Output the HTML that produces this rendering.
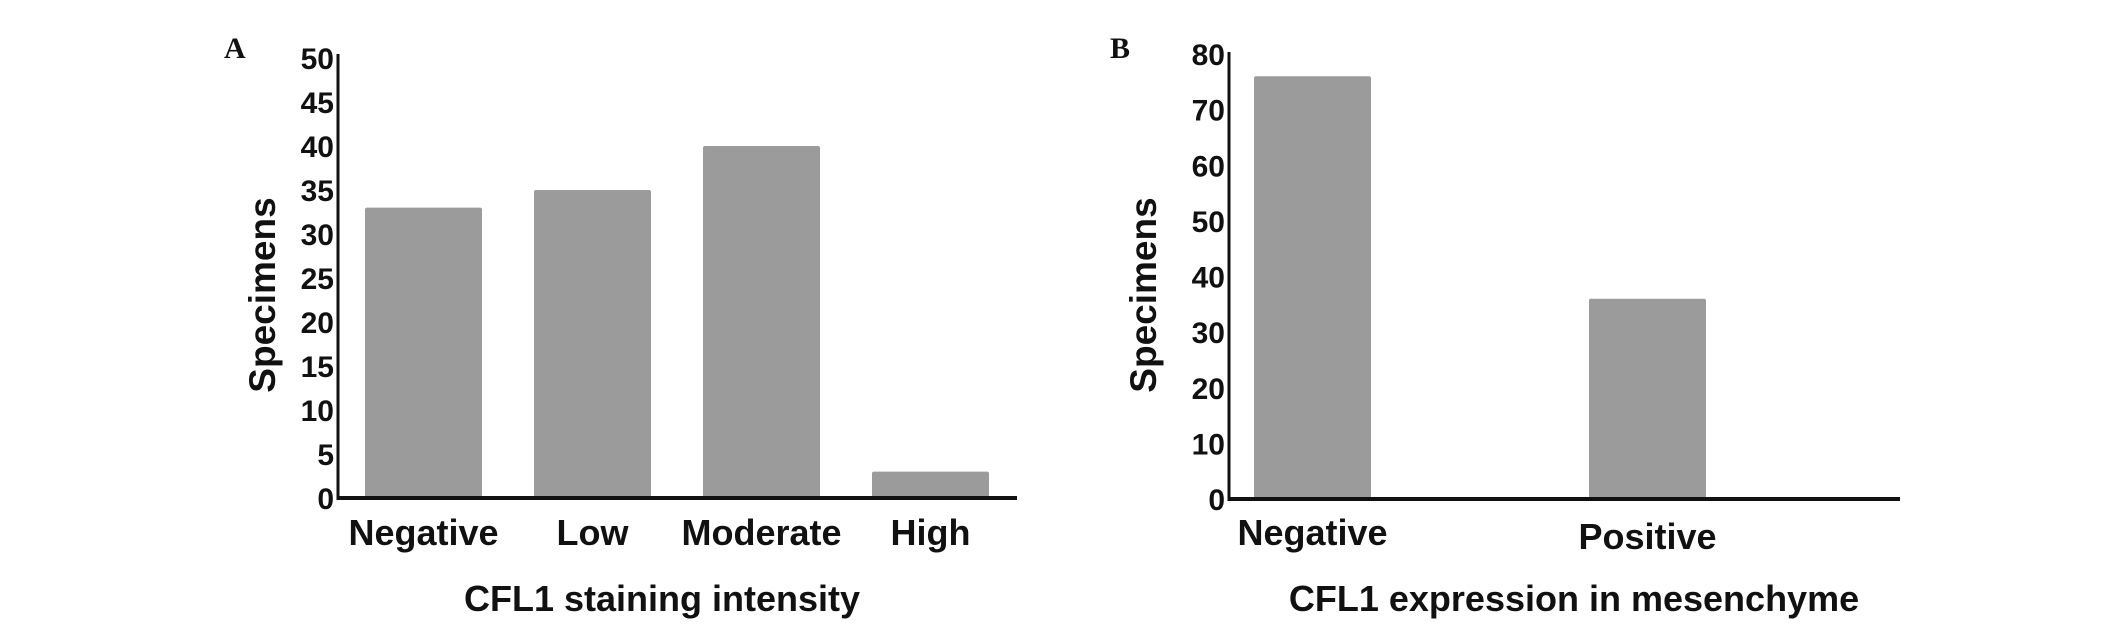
<!DOCTYPE html>
<html><head><meta charset="utf-8"><style>
html,body{margin:0;padding:0;background:#fff;}
svg{display:block;}
text{font-family:"Liberation Sans",Arial,sans-serif;font-weight:bold;fill:#111;}
</style></head><body>
<svg id="fig" width="2126" height="626" viewBox="0 0 2126 626" xmlns="http://www.w3.org/2000/svg">
<g id="panelA"></g>
<g id="panelB"></g>
</svg>
<script>
const catsA = ["Negative","Low","Moderate","High"];
const valsA = [33,35,40,3];
const ticksA = [0,5,10,15,20,25,30,35,40,45,50];
const catsB = ["Negative","Positive"];
const valsB = [76,36];
const ticksB = [0,10,20,30,40,50,60,70,80];
const NS="http://www.w3.org/2000/svg";
function mk(parent,tag,attrs,txt){const e=document.createElementNS(NS,tag);for(const k in attrs)e.setAttribute(k,attrs[k]);if(txt!==undefined)e.textContent=txt;parent.appendChild(e);return e;}
function drawPanel(g,cfg,cats,vals,ticks){
  const ymax=ticks[ticks.length-1];
  const y=v=>cfg.y0-(v/ymax)*(cfg.y0-cfg.yTop);
  ticks.forEach(t=>{
    const e=mk(g,"text",{x:cfg.ax-4,y:y(t)+11,"text-anchor":"end","font-size":30},String(t));
    
    
  });
  cats.forEach((c,i)=>{
    const x=cfg.barX[i];
    const b=mk(g,"rect",{x:x,y:y(vals[i]),width:cfg.bw,height:cfg.y0-y(vals[i]),fill:"#9b9b9b",rx:2});
    
    
    const l=mk(g,"text",{x:x+cfg.bw/2,y:cfg.labelY[i],"text-anchor":"middle","font-size":36},c);
    
    
  });
  const ya=mk(g,"line",{x1:cfg.ax,y1:cfg.axTop,x2:cfg.ax,y2:cfg.y0+2,stroke:"#111","stroke-width":3});
  
  
  const xa=mk(g,"line",{x1:cfg.ax,y1:cfg.y0,x2:cfg.xEnd,y2:cfg.y0,stroke:"#111","stroke-width":4});
  
  
  const yt=mk(g,"text",{x:0,y:0,"text-anchor":"middle","font-size":37,transform:`translate(${cfg.ytX},${cfg.ytY}) rotate(-90)`},"Specimens");
  
  
  const xt=mk(g,"text",{x:cfg.xtX,y:cfg.xtY,"text-anchor":"middle","font-size":36},cfg.title);
  
  
  const pl=mk(g,"text",{x:cfg.plX,y:58,"font-size":30,style:"font-family:'Liberation Serif',serif;font-weight:bold"},cfg.letter);
  
  
}
drawPanel(document.getElementById("panelA"),{ax:338,axTop:54,y0:498,yTop:58,xEnd:1017,bw:117,barX:[365,534,703,872],labelY:[545,545,545,545],ytX:275,ytY:295,xtX:662,xtY:611,title:"CFL1 staining intensity",plX:224,letter:"A"},catsA,valsA,ticksA);
drawPanel(document.getElementById("panelB"),{ax:1229,axTop:52,y0:499,yTop:54,xEnd:1900,bw:117,barX:[1254,1589],labelY:[545,549],ytX:1156,ytY:295,xtX:1574,xtY:611,title:"CFL1 expression in mesenchyme",plX:1110,letter:"B"},catsB,valsB,ticksB);
</script>
</body></html>
